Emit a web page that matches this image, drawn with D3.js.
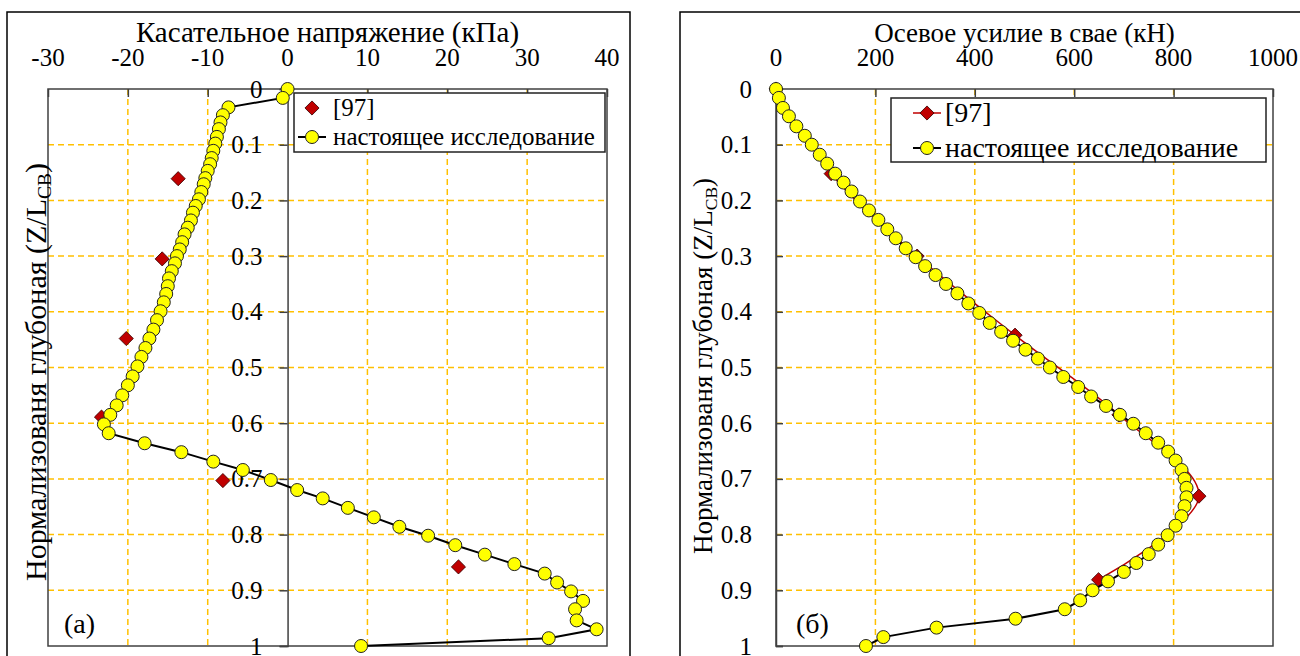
<!DOCTYPE html>
<html>
<head>
<meta charset="utf-8">
<script src="https://cdn.jsdelivr.net/npm/d3@7"></script>
</head>
<body style="margin:0">
<svg id="c" width="1300" height="656"></svg>
<script>
// ============================== DATA ==============================
const depthTicks = [0, 0.1, 0.2, 0.3, 0.4, 0.5, 0.6, 0.7, 0.8, 0.9, 1];
const shearTicks = [-30, -20, -10, 0, 10, 20, 30, 40];
const forceTicks = [0, 200, 400, 600, 800, 1000];

// (a) shear stress, present study
const shearDepth = [0, 0.016, 0.033, 0.047, 0.060, 0.072, 0.086, 0.098, 0.111, 0.124, 0.135, 0.147, 0.160, 0.171,
  0.185, 0.198, 0.210, 0.222, 0.236, 0.249, 0.261, 0.275, 0.288, 0.300, 0.313, 0.327, 0.340, 0.354, 0.368, 0.383,
  0.399, 0.415, 0.432, 0.448, 0.465, 0.481, 0.498, 0.516, 0.532, 0.550, 0.568, 0.585, 0.602, 0.618, 0.636, 0.652,
  0.669, 0.684, 0.702, 0.720, 0.735, 0.752, 0.769, 0.786, 0.802, 0.819, 0.836, 0.853, 0.870, 0.886, 0.902, 0.919,
  0.934, 0.954, 0.970, 0.986, 1.0];
const shearStudy = [0, -0.6, -7.4, -8.1, -8.4, -8.6, -8.85, -9.05, -9.3, -9.5, -9.7, -10.0, -10.3, -10.5,
  -10.8, -11.1, -11.5, -11.85, -12.1, -12.5, -12.9, -13.2, -13.5, -13.85, -14.1, -14.5, -14.85, -15.0, -15.2, -15.5,
  -15.9, -16.35, -16.8, -17.3, -17.8, -18.3, -18.8, -19.4, -20.0, -20.7, -21.4, -22.2, -23.0, -22.4, -17.9, -13.3,
  -9.3, -5.6, -2.1, 1.2, 4.4, 7.55, 10.8, 14.0, 17.6, 21.0, 24.7, 28.4, 32.2, 33.75, 35.5, 37.0,
  36.0, 36.2, 38.7, 32.7, 9.2];
// (a) shear stress, [97]
const shearRefDepth = [0.161, 0.305, 0.448, 0.589, 0.703, 0.858];
const shearRef = [-13.7, -15.7, -20.2, -23.3, -8.1, 21.4];

// (б) axial force, present study
const forceDepth = [0, 0.016, 0.034, 0.049, 0.067, 0.084, 0.100, 0.118, 0.134, 0.152, 0.168, 0.184, 0.202, 0.218,
  0.235, 0.252, 0.268, 0.286, 0.302, 0.318, 0.334, 0.350, 0.367, 0.385, 0.402, 0.420, 0.436, 0.452, 0.468, 0.484,
  0.500, 0.517, 0.535, 0.552, 0.569, 0.585, 0.601, 0.618, 0.635, 0.651, 0.667, 0.684, 0.700, 0.716, 0.733, 0.749,
  0.767, 0.784, 0.801, 0.818, 0.835, 0.851, 0.867, 0.884, 0.900, 0.918, 0.934, 0.951, 0.967, 0.984, 1.0];
const forceStudy = [0, 5.8, 14, 26, 41, 58, 72, 88, 103, 119, 136, 152, 169, 187,
  206, 224, 241, 261, 281, 300, 321, 342, 365, 387, 409, 430, 453, 477, 502, 527,
  551, 578, 608, 634, 664, 692, 719, 744, 769, 789, 804, 816, 822, 826, 826, 822,
  816, 804, 788, 769, 750, 725, 700, 668, 637, 612, 581, 482, 323, 216, 181];
// (б) axial force, [97]
const forceRefDepth = [0, 0.152, 0.300, 0.442, 0.585, 0.731, 0.881];
const forceRef = [0, 111, 284, 481, 690, 851, 649];

// ============================== SETTINGS ==============================
const GRID = "#FFC000";
const svg = d3.select("#c");

function pairs(xsArr, ysArr) {
  return xsArr.map((v, i) => ({ v: v, z: ysArr[i] }));
}

function diamond(sel, size) {
  sel.attr("d", d3.symbol(d3.symbolSquare, size)())
    .attr("fill", "#C00000")
    .attr("stroke", "#3a0000")
    .attr("stroke-width", 0.8);
}

function label(x, y, size, txt) {
  return svg.append("text").attr("x", x).attr("y", y).attr("font-size", size)
    .style("font-family", "Liberation Serif")
    .text(txt);
}

function drawPanel(p) {
  const xs = d3.scaleLinear().domain(p.domain).range([p.left, p.right]);
  const ys = d3.scaleLinear().domain([0, 1]).range([p.top, p.bottom]);
  const axisX = xs(0);

  // outer frame
  svg.append("rect")
    .attr("x", p.frame[0]).attr("y", p.frame[1])
    .attr("width", p.frame[2] - p.frame[0]).attr("height", 700)
    .attr("fill", "none").attr("stroke", "#000").attr("stroke-width", 1.5);

  // grid
  svg.selectAll(null).data(depthTicks.slice(1, -1)).enter().append("line")
    .attr("x1", p.left).attr("x2", p.right)
    .attr("y1", d => ys(d)).attr("y2", d => ys(d))
    .attr("stroke", GRID).attr("stroke-width", 1.5).attr("stroke-dasharray", "6,4");
  svg.selectAll(null).data(p.ticks.filter(d => d !== 0 && d !== p.domain[0] && d !== p.domain[1])).enter().append("line")
    .attr("x1", d => xs(d)).attr("x2", d => xs(d))
    .attr("y1", p.top).attr("y2", p.bottom)
    .attr("stroke", GRID).attr("stroke-width", 1.5).attr("stroke-dasharray", "6,4");

  // plot border
  svg.append("rect")
    .attr("x", p.left).attr("y", p.top)
    .attr("width", p.right - p.left).attr("height", p.bottom - p.top)
    .attr("fill", "none").attr("stroke", "#404040").attr("stroke-width", 1.5);

  // axes (lines from d3 axes, labels as plain texts)
  const xAxis = svg.append("g")
    .attr("transform", "translate(0," + p.top + ")")
    .call(d3.axisTop(xs).tickValues(p.ticks).tickSize(-8).tickFormat(""));
  const yAxis = svg.append("g")
    .attr("transform", "translate(" + axisX + ",0)")
    .call(d3.axisLeft(ys).tickValues(depthTicks).tickSize(p.yTick).tickFormat(""));
  [xAxis, yAxis].forEach(a => {
    a.select(".domain").attr("stroke", "#404040").attr("stroke-width", 1.5);
    a.selectAll(".tick line").attr("stroke", "#404040").attr("stroke-width", 1.5);
    a.selectAll("text").remove();
  });
  xAxis.select(".domain").remove();

  p.ticks.forEach(t => {
    label(xs(t), p.top - 23, 25, String(t)).attr("text-anchor", "middle");
  });
  depthTicks.forEach(t => {
    label(axisX - p.yPad, ys(t), 25, (t === 0 || t === 1) ? String(t) : t.toFixed(1))
      .attr("text-anchor", "end").attr("dy", "0.34em");
  });

  // titles
  label((p.left + p.right) / 2, 42, p.xTitleSize, p.xTitle).attr("text-anchor", "middle");
  const yt = label(0, 0, p.yTitleSize, null)
    .attr("transform", "translate(" + p.yTitleX + "," + p.yTitleY + ") rotate(-90)")
    .attr("text-anchor", "middle");
  yt.append("tspan").text("Нормализованя глубоная (Z/L");
  yt.append("tspan").attr("font-size", p.yTitleSize * 0.65).attr("dy", 5).text("CB");
  yt.append("tspan").attr("dy", -5).text(")");

  label(p.tagX, 633, 28, p.tag);

  // series [97]
  const refData = pairs(p.ref, p.refDepth);
  if (p.refLine) {
    svg.append("path").datum(refData)
      .attr("fill", "none").attr("stroke", "#C00000").attr("stroke-width", 1.5)
      .attr("d", d3.line().x(d => xs(d.v)).y(d => ys(d.z)).curve(d3.curveCatmullRom.alpha(0.5)));
  }
  svg.selectAll(null).data(refData).enter().append("path")
    .attr("transform", d => "translate(" + xs(d.v) + "," + ys(d.z) + ") rotate(45)")
    .call(diamond, 100);

  // series present study
  const studyData = pairs(p.study, p.studyDepth);
  svg.append("path").datum(studyData)
    .attr("fill", "none").attr("stroke", "#000").attr("stroke-width", 2)
    .attr("d", d3.line().x(d => xs(d.v)).y(d => ys(d.z)));
  svg.selectAll(null).data(studyData).enter().append("circle")
    .attr("cx", d => xs(d.v)).attr("cy", d => ys(d.z)).attr("r", 6.5)
    .attr("fill", "#FFFF00").attr("stroke", "#222").attr("stroke-width", 1);

  // legend
  const L = p.legend;
  svg.append("rect")
    .attr("x", L.x).attr("y", L.y).attr("width", L.w).attr("height", L.h)
    .attr("fill", "#fff").attr("stroke", "#222").attr("stroke-width", 1.5);
  const mx = L.x + L.mark;
  if (p.refLine) {
    svg.append("line").attr("x1", mx - 14).attr("x2", mx + 14).attr("y1", L.row1).attr("y2", L.row1)
      .attr("stroke", "#C00000").attr("stroke-width", 1.5);
  }
  svg.append("path").attr("transform", "translate(" + mx + "," + L.row1 + ") rotate(45)").call(diamond, 100);
  svg.append("line").attr("x1", mx - 14).attr("x2", mx + 14).attr("y1", L.row2).attr("y2", L.row2)
    .attr("stroke", "#000").attr("stroke-width", 2);
  svg.append("circle").attr("cx", mx).attr("cy", L.row2).attr("r", 6.5)
    .attr("fill", "#FFFF00").attr("stroke", "#222").attr("stroke-width", 1);
  label(L.text, L.row1, L.size, "[97]").attr("dy", "0.33em");
  label(L.text, L.row2, L.size, "настоящее исследование").attr("dy", "0.33em");
}

// ============================== PANELS ==============================
drawPanel({
  domain: [-30, 40], ticks: shearTicks, left: 48, right: 607, top: 89, bottom: 646,
  frame: [7, 12, 630], yTick: 8, yPad: 25,
  xTitle: "Касательное напряжение (кПа)", xTitleSize: 29,
  yTitleX: 46, yTitleY: 372, yTitleSize: 30,
  tag: "(a)", tagX: 64,
  study: shearStudy, studyDepth: shearDepth, ref: shearRef, refDepth: shearRefDepth, refLine: false,
  legend: { x: 294, y: 93, w: 311, h: 59, mark: 18, text: 333, row1: 108, row2: 137, size: 25 }
});

drawPanel({
  domain: [0, 1000], ticks: forceTicks, left: 776, right: 1273, top: 89, bottom: 646,
  frame: [680, 12, 1320], yTick: -7, yPad: 24,
  xTitle: "Осевое усилие в свае (кН)", xTitleSize: 27,
  yTitleX: 712, yTitleY: 366, yTitleSize: 27,
  tag: "(б)", tagX: 796,
  study: forceStudy, studyDepth: forceDepth, ref: forceRef, refDepth: forceRefDepth, refLine: true,
  legend: { x: 891, y: 98, w: 375, h: 64, mark: 36, text: 945, row1: 113, row2: 148, size: 28 }
});
</script>
</body>
</html>
